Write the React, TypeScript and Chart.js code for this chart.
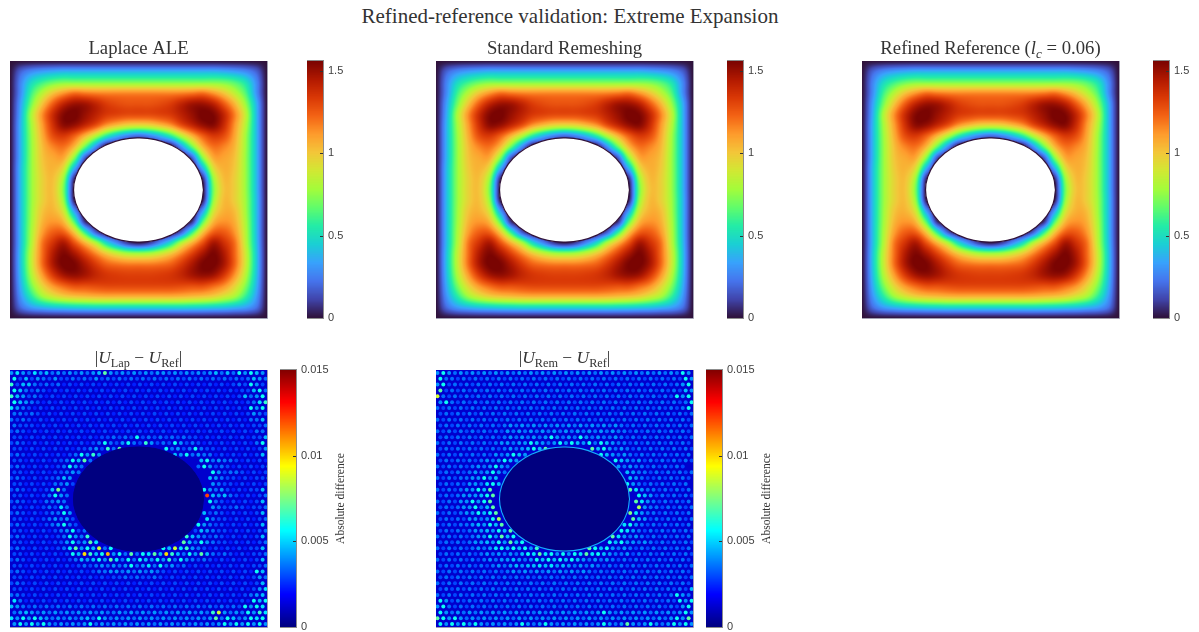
import React, { useEffect, useRef } from "react";
import { Chart, registerables } from "chart.js";

Chart.register(...registerables);

const figureTitle = "Refined-reference validation: Extreme Expansion";
const fieldTicks = [0, 0.5, 1, 1.5];
const errorTicks = [0, 0.005, 0.01, 0.015];
const fieldMax = 1.56;
const errorMax = 0.015;
const errorAxisLabel = "Absolute difference";

const turboStops = [[48,18,59],[65,69,171],[70,117,237],[57,162,252],[27,207,212],[36,236,166],[97,252,108],[164,252,59],[209,232,52],[243,198,58],[254,155,45],[243,99,21],[217,56,6],[177,25,1],[122,4,2]];
const jetStops = [[0,0,128],[0,0,255],[0,128,255],[0,255,255],[128,255,128],[255,255,0],[255,128,0],[255,0,0],[128,0,0]];

// Displacement magnitude, hundredths, rows from the top edge to the bottom edge of the square.
const fieldRows = [
[0,0,0,0,0,0,0,0,0,0,0,0,0,0,0,0,0,0,0,0,0,0,0,0,0],
[0,18,28,33,36,38,38,38,38,38,38,38,38,38,38,38,38,38,38,38,36,33,28,18,0],
[0,26,48,60,68,72,72,72,72,72,72,72,72,72,72,72,72,72,72,72,70,64,52,28,0],
[0,28,60,82,100,112,120,118,116,115,115,115,115,115,115,115,116,118,120,112,100,84,64,30,0],
[0,33,70,100,124,141,149,148,141,133,129,127,127,127,129,133,141,148,149,142,125,104,76,38,0],
[0,36,80,113,138,154,157,150,142,134,131,129,129,129,131,134,142,150,157,155,140,116,85,40,0],
[0,38,78,110,136,152,150,140,128,112,102,95,93,95,102,112,128,140,150,153,138,112,82,40,0],
[0,38,76,106,128,134,124,105,82,56,38,26,20,26,38,56,82,105,124,134,128,108,78,40,0],
[0,38,75,102,116,120,104,68,30,0,0,0,0,0,0,0,30,68,104,120,116,104,77,40,0],
[0,38,75,100,108,108,74,18,0,0,0,0,0,0,0,0,0,18,74,108,109,101,76,40,0],
[0,40,75,98,105,92,38,0,0,0,0,0,0,0,0,0,0,0,38,92,106,99,76,40,0],
[0,40,75,96,102,76,6,0,0,0,0,0,0,0,0,0,0,0,6,76,103,97,76,40,0],
[0,40,75,96,101,70,0,0,0,0,0,0,0,0,0,0,0,0,0,70,101,97,76,40,0],
[0,40,75,96,102,75,3,0,0,0,0,0,0,0,0,0,0,0,3,75,103,97,77,41,0],
[0,40,76,100,105,88,32,0,0,0,0,0,0,0,0,0,0,0,32,88,106,102,78,41,0],
[0,40,77,104,112,104,64,7,0,0,0,0,0,0,0,0,0,7,64,104,113,106,80,41,0],
[0,40,79,110,124,124,100,58,18,0,0,0,0,0,0,0,18,58,100,124,125,112,82,41,0],
[0,40,81,118,136,146,128,106,82,50,28,10,3,10,28,50,82,106,128,147,137,120,84,42,0],
[0,42,85,120,144,155,147,132,116,100,88,80,78,80,88,100,116,132,147,156,145,122,88,44,0],
[0,42,85,120,145,157,156,146,134,124,120,118,118,118,120,124,134,146,156,157,146,122,88,44,0],
[0,40,80,110,133,147,151,147,140,135,133,132,132,132,133,135,140,147,151,148,134,112,82,42,0],
[0,36,70,95,112,122,128,128,129,130,130,130,130,130,130,130,129,128,128,122,113,96,72,38,0],
[0,30,55,76,88,96,100,102,104,105,105,105,105,105,105,105,104,102,100,96,88,78,58,32,0],
[0,20,32,38,42,44,46,47,48,48,48,48,48,48,48,48,48,47,46,44,42,38,33,22,0],
[0,0,0,0,0,0,0,0,0,0,0,0,0,0,0,0,0,0,0,0,0,0,0,0,0],
];

// Absolute differences on the mesh lattice, one base-36 digit per dot, in units of 0.00058.
const laplaceDots = [
"7976978676767678c7676767677676767678686a7a87",
"a5857657556565756565656565656565656565656876",
"b5886565645454545454545454545454545454565a75",
"a86565454545454545454545454545454545454558a6",
"b875654545454545454545454545454545454545867a",
"a876545454545454545454545454545454545454569b",
"97654545454545454545454545454545454545454a7a",
"66565454545454545454545454545454545454545765",
"65654545454545454545454545454545454545454668",
"65554545454545454545454545454545454545454556",
"56545454545454545454545454545454545454545466",
"554545454545454556565a5656565655454545454558",
"5654545454545456a657a65b7565a75654545454546a",
"5545454545455675b6c0000000a6756a655454545457",
"565454545456a7b700000000000087a6766454545458",
"5545454556a8c60000000000000000008a676654545456",
"5654545456a7600000000000000000006a75654545458",
"5545454556760000000000000000000000a75665454556",
"56545455687000000000000000000000008765545 4558",
"554545466750000000000000000000000076554545456",
"56545458d60000000000000000000000 0a7675454558",
"5545456a7600000000000000000000000l8786545456",
"5654546676000000000000000000000000a654545458",
"5545456596000000000000000000000000765565 4556",
"56545456 6a70000000000000000000000856545454 58",
"55454567675000000000000000000000 0 96554545456",
"565454567a650000000000000000000 0a76554545458",
"5545454567a5600000000000000000058765545454 56",
"5654545456a76b0000000000000000b8765654545458",
"5545454557a67c90000000000000 0c86a76554545456",
"56545454569c7a8f6a00000000a8f9b7654545454558",
"5545454545a8hb8ai7a6c6a9c8hb86a7c86565454556",
"565454545456878a7c96a6a87a7b6a76565454545458",
"55454545454565676767a6796a675645454545454556",
"565454545454545667767676765454545454545454a8",
"55454545454545454556565565454545454545454576",
"56545454545454545454545454545454545454545458",
"55454545454545454545454545454545454545454579",
"66545454545454545454545454545454545454545678",
"96454545454545454545454545454545454545454a8a",
"8765656565656565656565656565656565656565a7a9",
"6787676767676767667676767676767676bf7676a7b9",
"97a7a8767676786a7676767676767676767c6a867a9a",
"7a7a7a7676767a6767676767676767676767a7a7a7a7",
].map((row) => row.replace(/ /g, ""));

const remeshDots = [
"7a7676767676767676767676767676767676767676a7",
"a66565656565656565656565656565656565656565a7",
"7a56565656565656565656565656565656565656567a",
"c5656565656565656565656565656565656565656587",
"f6565656565656565656565656565656565656565a7a",
"7a65656565656565656565656565656565656565656a",
"6565656565656565656565656565656565656565656a",
"56565656565656565656565656565656565656565656",
"65656565656565656565656565656565656565656565",
"56565656565676767676767676767676565656565656",
"65656565656576767676767676767676656565656565",
"5656565656567676767a7676a7676676565656565656",
"6565656565677677a8767a7a87a6a876656565656565",
"5656565656567678a8c0000000c8a767656565656565",
"6565656565767a87000000000000a876765656565656",
"56565656767a870000000000000000a87675656565 65",
"6565656767a7600000000000000000a7676656565 65",
"565656767a7600000000000000000000876656 56565 6",
"65656677a7800000000000000000000 00876556 56565",
"56565776 9a80000000000000000000 00a76565 65656",
"6565677a8c00000000000000000000000c9766565656",
"56567778ac000000000000000000000000a875656565",
"656577a7ac000000000000000000000000c976565656",
"565677a68c000000000000000000000000e766565656",
"6565677a8ac0000000000000000000000d9766565656",
"5656577 67ae0000000000000000000000c8756565656",
"656566787a8c00000000000000000000 9a76565656 56",
"5656567787a8c000000000000000000a9765656565 65",
"656565677a7c8a0000000000000000c9767656565656",
"5656567787a7c8a00000000000000a8a776765656565",
"65656567679a8a8a7b00000000ca8a76765656565656",
"565656567676768a9c9a7a7a9c9a8766756565656565",
"65656565676778767a8a8a8a87676765656565656565",
"56565656567678788989787676765656565656565656",
"65656565656567676767676767656565656565656565",
"56565656565656565656565656565656565656565656",
"65656565656565656565656565656565656565656565",
"56565656565656565656565656565656565656565658",
"65656565656565656565656565656565656565656a76",
"a7565656565656565656565656565656565656565a7a",
"7a65656565656565656565656565656565656565657a",
"a767676767676767676767676767a7676767676767a7",
"ca7a7676767676767676767676767676767676767a7c",
"a7a7a7a7676767a767a767676767a767c767a767a7a7",
].map((row) => row.replace(/ /g, ""));

const holeX = [0.753,0.744,0.719,0.679,0.627,0.565,0.5,0.435,0.373,0.321,0.281,0.256,0.247,0.256,0.281,0.321,0.373,0.435,0.5,0.565,0.627,0.679,0.719,0.744,0.753];
const holeY = [0.498,0.55,0.599,0.641,0.673,0.694,0.7005,0.694,0.673,0.641,0.599,0.55,0.498,0.446,0.397,0.355,0.323,0.302,0.2955,0.302,0.323,0.355,0.397,0.446,0.498];

const SERIF = '"Liberation Serif", "Times New Roman", serif';
const SANS = '"Liberation Sans", Arial, sans-serif';
const INK = "#333333";

type Run = { t: string; i?: boolean; sub?: boolean };
const titleLaplace: Run[] = [{ t: "Laplace ALE" }];
const titleRemesh: Run[] = [{ t: "Standard Remeshing" }];
const titleRefined: Run[] = [{ t: "Refined Reference (" }, { t: "l", i: true }, { t: "c", i: true, sub: true }, { t: " = 0.06)" }];
const titleLapDiff: Run[] = [{ t: "|" }, { t: "U", i: true }, { t: "Lap", sub: true }, { t: " − " }, { t: "U", i: true }, { t: "Ref", sub: true }, { t: "|" }];
const titleRemDiff: Run[] = [{ t: "|" }, { t: "U", i: true }, { t: "Rem", sub: true }, { t: " − " }, { t: "U", i: true }, { t: "Ref", sub: true }, { t: "|" }];

function colorAt(stops: number[][], t: number): [number, number, number] {
  const c = Math.max(0, Math.min(1, t)) * (stops.length - 1);
  const k = Math.min(stops.length - 2, Math.floor(c));
  const f = c - k;
  const a = stops[k], b = stops[k + 1];
  return [a[0] + (b[0] - a[0]) * f, a[1] + (b[1] - a[1]) * f, a[2] + (b[2] - a[2]) * f];
}
const css = (c: number[]) => `rgb(${Math.round(c[0])},${Math.round(c[1])},${Math.round(c[2])})`;

function catmull(p0: number, p1: number, p2: number, p3: number, t: number) {
  return 0.5 * (2 * p1 + (p2 - p0) * t + (2 * p0 - 5 * p1 + 4 * p2 - p3) * t * t + (3 * p1 - p0 - 3 * p2 + p3) * t * t * t);
}

function sampleField(rows: number[][], col: number, row: number) {
  const n = rows.length - 1, m = rows[0].length - 1;
  const r = Math.min(n - 1, Math.floor(row)), c = Math.min(m - 1, Math.floor(col));
  const fr = row - r, fc = col - c;
  const at = (j: number, i: number) => rows[Math.max(0, Math.min(n, j))][Math.max(0, Math.min(m, i))];
  const line = (j: number) => catmull(at(j, c - 1), at(j, c), at(j, c + 1), at(j, c + 2), fc);
  return catmull(line(r - 1), line(r), line(r + 1), line(r + 2), fr) / 100;
}

const heatLayer = {
  id: "heatLayer",
  beforeDatasetsDraw(chart: any, _a: any, opts: any) {
    const { ctx, chartArea: ar, scales } = chart;
    if (opts.background) {
      ctx.save();
      ctx.fillStyle = opts.background;
      ctx.fillRect(ar.left, ar.top, ar.width, ar.height);
      ctx.restore();
    }
    if (!opts.rows) return;
    const w = Math.round(ar.width), h = Math.round(ar.height);
    const img = ctx.createImageData(w, h);
    const n = opts.rows.length - 1, m = opts.rows[0].length - 1;
    for (let py = 0; py < h; py++) {
      const row = (1 - scales.y.getValueForPixel(ar.top + py + 0.5)) * n;
      for (let px = 0; px < w; px++) {
        const col = scales.x.getValueForPixel(ar.left + px + 0.5) * m;
        const v = Math.max(0, sampleField(opts.rows, col, row));
        const [r, g, b] = colorAt(turboStops, v / fieldMax);
        const o = (py * w + px) * 4;
        img.data[o] = r; img.data[o + 1] = g; img.data[o + 2] = b; img.data[o + 3] = 255;
      }
    }
    ctx.putImageData(img, Math.round(ar.left), Math.round(ar.top));
  },
  beforeDatasetDraw(chart: any, args: any, opts: any) {
    if (opts.soft && args.index === 1) {
      chart.ctx.save();
      chart.ctx.filter = "blur(0.55px)";
    }
  },
  afterDatasetDraw(chart: any, args: any, opts: any) {
    if (opts.soft && args.index === 1) chart.ctx.restore();
  },
  afterDraw(chart: any) {
    const { ctx, chartArea: ar } = chart;
    ctx.save();
    ctx.strokeStyle = "rgba(150,150,170,0.9)";
    ctx.lineWidth = 1;
    ctx.beginPath();
    ctx.moveTo(ar.right + 0.5, ar.top);
    ctx.lineTo(ar.right + 0.5, ar.bottom + 0.5);
    ctx.lineTo(ar.left, ar.bottom + 0.5);
    ctx.stroke();
    ctx.restore();
  },
};

const runTitle = {
  id: "runTitle",
  afterDraw(chart: any, _a: any, opts: any) {
    if (!opts.runs) return;
    const { ctx, chartArea: ar } = chart;
    const fontOf = (r: Run) => `${r.i ? "italic " : ""}${r.sub ? opts.size * 0.7 : opts.size}px ${SERIF}`;
    ctx.save();
    ctx.fillStyle = INK;
    ctx.textBaseline = "alphabetic";
    ctx.textAlign = "left";
    let total = 0;
    for (const r of opts.runs) { ctx.font = fontOf(r); total += ctx.measureText(r.t).width; }
    let x = (ar.left + ar.right) / 2 - total / 2;
    for (const r of opts.runs) {
      ctx.font = fontOf(r);
      ctx.fillText(r.t, x, ar.top - opts.gap + (r.sub ? 4 : 0));
      x += ctx.measureText(r.t).width;
    }
    ctx.restore();
  },
};

const barFrame = {
  id: "barFrame",
  afterDraw(chart: any, _a: any, opts: any) {
    const { ctx, chartArea: ar, scales } = chart;
    ctx.save();
    ctx.strokeStyle = "#8c8c8c";
    ctx.lineWidth = 1;
    ctx.strokeRect(ar.left - 0.5, ar.top - 0.5, ar.width + 1, ar.height + 1);
    ctx.strokeStyle = "#333333";
    ctx.beginPath();
    for (const tk of scales.y.ticks) {
      const y = Math.round(scales.y.getPixelForValue(tk.value)) + 0.5;
      if (y > ar.top + 2 && y < ar.bottom - 2) { ctx.moveTo(ar.right - 3, y); ctx.lineTo(ar.right, y); }
    }
    ctx.stroke();
    if (opts.label) {
      ctx.translate(ar.right + 45, (ar.top + ar.bottom) / 2);
      ctx.rotate(-Math.PI / 2);
      ctx.font = `11.5px ${SERIF}`;
      ctx.fillStyle = INK;
      ctx.textAlign = "center";
      ctx.textBaseline = "middle";
      ctx.fillText(opts.label, 0, 0);
    }
    ctx.restore();
  },
};

const holeData = holeX.map((x, k) => ({ x, y: holeY[k] }));
const fieldPoints = fieldRows.flatMap((row, j) => row.map((u, i) => ({ x: i / (row.length - 1), y: 1 - j / (fieldRows.length - 1), v: u / 100 })));
const dotPoints = (rows: string[]) =>
  rows.flatMap((row, r) =>
    row.split("").map((ch, c) => ({
      x: (c + 0.5 + (r % 2 ? 0.25 : -0.25)) / 44,
      y: 1 - (r + 0.5) / rows.length,
      v: parseInt(ch, 36) * 0.00058,
    }))
  ).filter((p) => p.v > 0);

const flat = { animation: false as const, responsive: false, maintainAspectRatio: false, devicePixelRatio: 1, events: [] as string[] };
const silent = { legend: { display: false }, tooltip: { enabled: false }, title: { display: false } };
const PAD_TOP = 34;

function fieldConfig(runs: Run[]) {
  return {
    type: "scatter",
    data: {
      datasets: [
        { data: holeData, showLine: true, tension: 0.5, fill: "shape", backgroundColor: "#ffffff", borderColor: "#30123b", borderWidth: 1.3, pointRadius: 0 },
        { data: fieldPoints, pointRadius: 0, showLine: false },
      ],
    },
    options: {
      ...flat,
      layout: { autoPadding: false, padding: { top: PAD_TOP, left: 0, right: 2, bottom: 2 } },
      scales: { x: { type: "linear", min: 0, max: 1, display: false }, y: { type: "linear", min: 0, max: 1, display: false } },
      plugins: { ...silent, heatLayer: { rows: fieldRows }, runTitle: { runs, size: 18.7, gap: 7 } },
    },
    plugins: [heatLayer, runTitle],
  };
}

function errorConfig(runs: Run[], rows: string[], rim: string) {
  return {
    type: "scatter",
    data: {
      datasets: [
        { data: holeData, showLine: true, tension: 0.5, fill: "shape", backgroundColor: "#000080", borderColor: rim, borderWidth: 1.1, pointRadius: 0 },
        {
          data: dotPoints(rows),
          showLine: false,
          pointStyle: "circle",
          pointRadius: 2.0,
          pointBorderWidth: 0,
          pointBackgroundColor: (c: any) => css(colorAt(jetStops, (c.raw?.v ?? 0) / errorMax)),
        },
      ],
    },
    options: {
      ...flat,
      layout: { autoPadding: false, padding: { top: PAD_TOP, left: 0, right: 2, bottom: 2 } },
      scales: { x: { type: "linear", min: 0, max: 1, display: false }, y: { type: "linear", min: 0, max: 1, display: false } },
      plugins: { ...silent, heatLayer: { background: "rgb(0,0,205)", soft: true }, runTitle: { runs, size: 17.5, gap: 7 } },
    },
    plugins: [heatLayer, runTitle],
  };
}

function barConfig(stops: number[][], max: number, ticks: number[], rightPad: number, label?: string) {
  const levels = 257;
  return {
    type: "bar",
    data: {
      labels: [""],
      datasets: Array.from({ length: levels }, (_, k) => ({
        data: [max / levels],
        backgroundColor: css(colorAt(stops, (k + 0.5) / levels)),
        borderWidth: 0,
        barPercentage: 1,
        categoryPercentage: 1,
      })),
    },
    options: {
      ...flat,
      layout: { autoPadding: false, padding: { top: 8, bottom: 8, left: 0, right: rightPad } },
      scales: {
        x: { stacked: true, display: false },
        y: {
          stacked: true,
          min: 0,
          max,
          position: "right",
          grid: { display: false, drawTicks: false },
          border: { display: false },
          afterBuildTicks: (s: any) => { s.ticks = ticks.map((value) => ({ value })); },
          afterFit: (s: any) => {
            s.width = 40;
            s.paddingTop = 0;
            s.paddingBottom = 0;
            if (s._margins) { s._margins.top = 0; s._margins.bottom = 0; }
          },
          ticks: { callback: (v: any) => String(v), color: "#404040", padding: 5, font: { family: SANS, size: 11 }, autoSkip: false, maxRotation: 0 },
        },
      },
      plugins: { ...silent, barFrame: { label } },
    },
    plugins: [barFrame],
  };
}

function Plot({ left, top, width, height, make }: { left: number; top: number; width: number; height: number; make: () => any }) {
  const ref = useRef<HTMLCanvasElement | null>(null);
  useEffect(() => {
    const chart = new Chart(ref.current as HTMLCanvasElement, make());
    return () => chart.destroy();
  }, []);
  return <canvas ref={ref} width={width} height={height} style={{ position: "absolute", left, top, width, height, display: "block" }} />;
}

const SIDE = 257;
const BAR_W = 16;

export default function App() {
  const field = (x: number, runs: Run[]) => (
    <Plot left={x} top={61 - PAD_TOP} width={SIDE + 2} height={SIDE + PAD_TOP + 2} make={() => fieldConfig(runs)} />
  );
  const error = (x: number, runs: Run[], rows: string[], rim: string) => (
    <Plot left={x} top={370 - PAD_TOP} width={SIDE + 2} height={SIDE + PAD_TOP + 2} make={() => errorConfig(runs, rows, rim)} />
  );
  const bar = (x: number, y: number, stops: number[][], max: number, ticks: number[], label?: string) => {
    const rightPad = label ? 30 : 0;
    return (
      <Plot left={x} top={y - 8} width={BAR_W + 40 + rightPad} height={SIDE + 16} make={() => barConfig(stops, max, ticks, rightPad, label)} />
    );
  };
  return (
    <div style={{ position: "absolute", left: 0, top: 0, width: 1199, height: 632, overflow: "hidden", background: "#fff" }}>
      <div style={{ position: "absolute", left: 0, top: 3, width: 1140, textAlign: "center", font: `21px ${SERIF}`, color: INK, lineHeight: "26px" }}>{figureTitle}</div>
      {field(10, titleLaplace)}
      {bar(307, 61, turboStops, fieldMax, fieldTicks)}
      {field(436, titleRemesh)}
      {bar(727, 61, turboStops, fieldMax, fieldTicks)}
      {field(862, titleRefined)}
      {bar(1153, 61, turboStops, fieldMax, fieldTicks)}
      {error(10, titleLapDiff, laplaceDots, "#000080")}
      {bar(280, 370, jetStops, errorMax, errorTicks, errorAxisLabel)}
      {error(436, titleRemDiff, remeshDots, "rgb(20,175,255)")}
      {bar(706, 370, jetStops, errorMax, errorTicks, errorAxisLabel)}
    </div>
  );
}
